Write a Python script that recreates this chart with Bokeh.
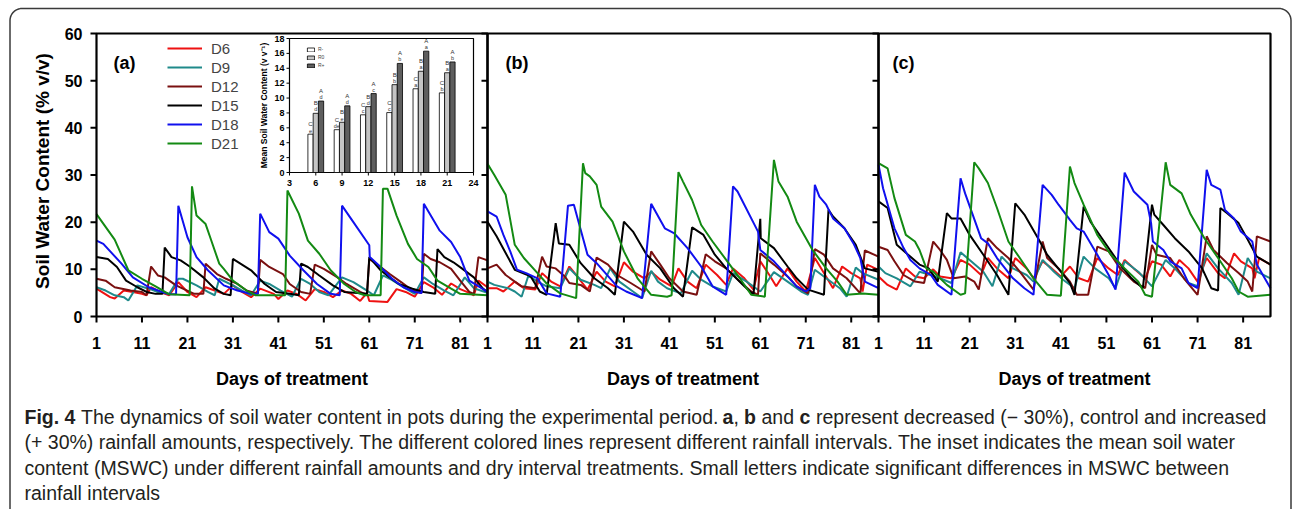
import numpy as np
from bokeh.plotting import figure
from bokeh.models import Range1d, Legend, LegendItem
from bokeh.core.properties import value
from bokeh.embed import file_html
from bokeh.resources import INLINE

# ---------------------------------------------------------------- data
SERIES = ["D6", "D9", "D12", "D15", "D18", "D21"]
COLORS = ["#ee1111", "#1f8a8a", "#7a1010", "#000000", "#1010ee", "#138a13"]
PANEL_TAGS = ["(a)", "(b)", "(c)"]

X_TICKS = [1, 11, 21, 31, 41, 51, 61, 71, 81]
Y_TICKS = [0, 10, 20, 30, 40, 50, 60]
DAY_MIN, DAY_MAX = 1, 87
SWC_MIN, SWC_MAX = 0, 60

# (day, soil water content %) for panel (a): decreased rainfall
A_D6 = [(1,5.9),(4,4.1),(5,3.8),(7,5.5),(9,5.2),(11,4.8),(12,4.5),(13,6.2),(15,5.2),(17,4.5),(19,7.3),(21,5.2),(23,4.1),(25,6.2),(27,5.5),(29,4.8),(31,6.6),(33,5.2),(35,4.1),(37,5.9),(40,4.8),(41,3.7),(43,5.5),(45,4.8),(47,3.4),(49,5.8),(51,5.2),(53,4.1),(55,5.5),(57,4.8),(59,3.3),(60.5,5.0),(61,3.3),(65,3.1),(67,5.8),(69,5.2),(71,4.2),(73,7.3),(75,6.2),(77,4.6),(79,7.0),(81,5.8),(83,5.0),(84,4.5),(85,7.6),(87,6.2)]
A_D9 = [(1,6.2),(3,5.5),(5,4.5),(7,4.1),(8,3.4),(10,6.6),(12.5,5.9),(14.5,5.2),(17,4.8),(19,8.0),(20,8.0),(23,6.6),(25.5,5.2),(27,4.5),(28,8.0),(31,6.6),(33.5,5.2),(35,4.5),(37,7.6),(39,6.9),(41.5,5.5),(44,4.2),(46,8.0),(48,6.9),(50,5.2),(52,4.5),(55,8.3),(57.5,7.3),(60.5,5.5),(62,4.5),(64,8.7),(65.5,8.0),(68.5,6.2),(71,4.8),(73,8.3),(75,6.9),(77.5,5.5),(79.5,4.5),(82,8.3),(84,6.0),(87,5.0)]
A_D12 = [(1,8.0),(3,7.6),(5,6.2),(8.5,5.5),(11,5.2),(12,4.5),(13,10.6),(14.5,8.7),(16,8.3),(18.5,6.6),(20,5.9),(22.5,4.8),(24.5,4.8),(25,11.2),(27.5,9.0),(29.5,8.0),(32,6.9),(34,5.5),(36.5,4.8),(37,12.0),(39,10.5),(42,9.0),(43.5,6.9),(46,5.2),(48,4.8),(49,11.0),(51,10.1),(54,8.3),(56,6.9),(59,5.2),(60.5,4.6),(61,12.2),(63.5,10.5),(65.5,9.0),(68,7.3),(70.5,5.5),(72.5,5.0),(73,13.3),(74.5,12.2),(76.5,11.5),(79,10.1),(81,7.6),(83,5.2),(84,4.8),(85,12.6),(87,11.9)]
A_D15 = [(1,12.6),(3.5,12.2),(5.5,10.5),(7.5,7.6),(10,6.2),(12,5.2),(14,4.8),(15.5,4.8),(16,14.6),(17.5,12.6),(19.5,11.9),(21.5,10.6),(24.5,8.3),(27,5.9),(29,4.8),(30.5,4.5),(31,12.2),(35,9.8),(38,6.9),(40.5,5.2),(43.5,4.8),(45.5,4.5),(46,11.2),(47.5,10.5),(50,8.7),(53,6.6),(55.5,5.2),(60.5,4.8),(61,12.6),(63.5,9.8),(65.5,8.3),(67.5,6.9),(70.5,5.9),(73,5.2),(75.5,4.8),(76,14.3),(77.5,12.6),(79.5,11.5),(81.5,10.1),(84,8.3),(86,5.9),(87,5.2)]
A_D18 = [(1,16.1),(2.5,15.4),(6.5,11.2),(9,8.3),(12.5,6.2),(17,4.7),(18.5,4.7),(19,23.5),(21,16.8),(23,12.6),(25.5,9.8),(29,6.6),(32,5.5),(35,4.8),(36.5,4.8),(37,21.8),(39,17.9),(41,16.5),(43.5,12.9),(46.5,9.8),(49.5,6.9),(52.5,4.8),(54.5,4.5),(55,23.5),(57.5,20.0),(61,15.1),(61.1,12.6),(63.5,10.5),(66,8.0),(68.5,6.2),(71,5.2),(72.5,5.0),(73,23.9),(76.5,18.2),(79,15.8),(81,12.6),(83,7.6),(87,5.2)]
A_D21 = [(1,21.7),(3,19.0),(5,16.3),(8,9.8),(11,8.0),(14,6.4),(17,4.7),(21.5,4.5),(22,27.6),(23,21.4),(25,19.6),(26,16.8),(28,11.2),(29,10.1),(31,7.6),(34,5.5),(36,4.5),(42.5,4.5),(43,26.7),(45.5,21.8),(47.5,16.1),(50,13.3),(52.5,9.8),(55.5,6.9),(58,5.2),(60,4.5),(63.5,4.5),(64,27.1),(65,27.1),(67,21.4),(69.5,15.4),(71.5,12.2),(74,10.5),(76,7.6),(79,5.9),(81,4.8),(87,4.5)]

# panel (b): control
B_D6 = [(1,6.0),(3,6.0),(4.5,5.3),(7,7.4),(9,6.0),(11.5,5.7),(13,9.2),(15,7.4),(17,6.4),(19,10.6),(20.5,8.8),(23,5.7),(25,9.5),(27,7.4),(29,6.4),(31,11.5),(33,9.5),(35.5,8.1),(37,9.5),(39,7.8),(41.5,6.4),(43,10.2),(45,7.4),(47,6.0),(49,11.0),(51.5,8.8),(53.5,6.7),(55,10.2),(57.5,8.1),(59.5,5.7),(61,11.7),(63,8.8),(64.5,6.4),(67,10.2),(69,7.4),(71,5.3),(73,12.4),(75,9.2),(77,6.0),(79,10.6),(81,9.2),(83,8.1),(83.5,5.3),(84.5,11.0),(87,9.9)]
B_D9 = [(1,7.4),(2.5,6.7),(5.5,6.0),(7,5.3),(8.5,4.2),(10,8.7),(12,7.4),(14,6.4),(17,6.0),(19,10.2),(21.5,7.8),(24.5,6.7),(26,6.0),(28,10.2),(30,7.4),(33,5.3),(35,3.9),(37,9.7),(38.5,7.4),(40.5,6.0),(43.5,4.9),(46,9.7),(48,7.8),(50.5,6.4),(53.5,5.3),(55,9.2),(58,7.4),(61,5.3),(64,9.4),(67,7.4),(70,5.3),(71.5,4.6),(73,9.9),(75.5,8.1),(78.5,6.0),(80,4.2),(82,10.4),(83.5,9.2),(87,7.8)]
B_D12 = [(1,10.2),(3,11.0),(5,8.8),(7,7.4),(8.5,6.4),(11.5,6.0),(13,12.7),(14,10.6),(16,10.2),(18,8.5),(19,7.1),(21.5,6.7),(23.5,5.3),(25,12.5),(27.5,11.0),(29.5,8.8),(32.5,7.1),(35.5,5.3),(37,13.8),(39,11.0),(41,8.1),(44,5.3),(47,4.6),(49,13.2),(51,11.7),(53.5,10.2),(56.5,7.4),(59,5.3),(60.5,4.6),(61,13.4),(64,11.0),(67,8.5),(69,6.4),(71.5,4.9),(73,14.3),(75,13.1),(77,10.2),(80,8.1),(83,4.9),(84,14.0),(87,12.7)]
B_D15 = [(1,20.1),(3,17.0),(7,9.9),(10.5,8.5),(12.5,5.3),(14,4.6),(16,19.8),(16.7,15.5),(19,15.2),(21.5,11.3),(24.5,8.1),(27.5,6.0),(29,4.6),(31,20.1),(33,18.0),(36,13.1),(39,10.2),(42,6.0),(44,4.2),(46,18.9),(48.5,17.3),(51,13.1),(53.5,10.2),(57.5,6.4),(59.5,4.6),(61,20.7),(61.1,16.6),(64,14.5),(67,10.6),(69,8.1),(71.5,5.7),(75,4.6),(76,22.6),(77,21.2),(79.5,18.7),(82,15.2),(84,10.2),(87,9.5)]
B_D18 = [(1,22.3),(3,21.2),(4.5,17.3),(6,13.8),(7.5,9.9),(9.5,9.2),(12,8.1),(14,4.9),(17,4.2),(18.7,23.5),(20,23.7),(23,13.1),(25,11.3),(29.5,6.4),(31.5,5.3),(35,3.9),(37,23.9),(40,18.7),(42,17.7),(45,14.5),(48,10.6),(50.5,6.4),(53.5,4.6),(55,27.6),(56,26.5),(60.5,18.0),(61,14.1),(64,11.7),(67,8.5),(69,6.4),(71,5.3),(72,6.0),(73,27.9),(74,25.4),(75.5,23.7),(77,20.8),(79.5,18.7),(81.5,15.5),(83,12.4),(84,7.4),(87,6.0)]
B_D21 = [(1,32.4),(2.5,30.0),(5,25.8),(7,15.2),(9,12.4),(12,9.2),(14,7.0),(17,4.9),(20.5,3.9),(22,32.5),(22.5,30.4),(23.5,29.7),(25,27.9),(26,23.3),(28.5,20.1),(31,13.8),(34,8.1),(37,4.6),(40.5,4.2),(41.5,4.5),(43,30.6),(44,28.6),(46,24.7),(48,19.4),(50.5,15.9),(53.5,12.0),(56.5,8.1),(59,4.6),(62,4.2),(64,33.2),(65,28.6),(67,25.4),(69,20.1),(72.5,14.1),(75.5,10.2),(78,7.4),(80,4.6),(83.5,4.9),(87,4.6)]

# panel (c): increased rainfall
C_D6 = [(1,8.5),(3,6.7),(5,5.7),(7,10.2),(9,8.5),(11,8.1),(13,10.0),(14.5,8.5),(17,8.1),(19,12.0),(21,11.0),(23.5,8.8),(25,12.4),(27,10.2),(29.5,8.1),(31,12.4),(33.5,10.2),(35,8.1),(37,11.7),(39,10.2),(41,8.5),(43,10.6),(45,8.1),(47,7.4),(49,12.4),(51.5,10.2),(53.5,8.8),(55,12.0),(57,10.2),(59.5,8.1),(61,11.7),(63,11.0),(65,8.5),(67,12.0),(69,10.2),(71,7.4),(73,12.4),(75.5,9.2),(77,8.1),(79,13.4),(80.5,11.7),(83,10.2),(83.5,8.1),(84.5,12.4),(87,11.0)]
C_D9 = [(1,10.6),(2.5,9.2),(5,8.1),(8,6.4),(10,9.5),(12.5,8.8),(14.5,8.1),(17,7.1),(19,13.6),(21,12.0),(24,9.5),(26,6.4),(28,12.7),(30.5,10.2),(33.5,8.8),(35,7.4),(37,12.0),(39.5,9.5),(41.5,7.8),(44,6.0),(46,12.7),(48.5,10.2),(51.5,8.1),(53,6.0),(55,11.7),(58,9.5),(61,6.4),(64,12.0),(66,10.2),(69,7.1),(71,6.4),(73,13.4),(75.5,10.2),(78.5,7.1),(80,4.6),(82,12.4),(84,9.5),(87,8.1)]
C_D12 = [(1,14.8),(3,14.1),(4.5,11.7),(6.5,8.8),(9,7.4),(11,7.1),(13,15.9),(14.5,14.1),(16,12.0),(17.5,8.1),(20,8.5),(22,7.4),(23,5.7),(25,16.6),(27,14.5),(29.5,12.4),(32,9.5),(35,5.7),(37,15.9),(38,12.4),(40.5,10.2),(43,7.4),(44.5,4.6),(47,4.6),(49,14.8),(51.5,13.8),(54,10.2),(57,7.4),(59.5,6.0),(61,15.2),(62,13.1),(65,12.4),(68,8.1),(71,4.6),(73,17.0),(74.5,14.1),(77.5,11.3),(80,9.2),(82,7.4),(83,5.3),(84,17.0),(87,15.9)]
C_D15 = [(1,24.4),(3,23.0),(5,15.2),(7.5,13.1),(10,11.0),(12,10.2),(14,7.4),(16,21.9),(17,20.8),(19,20.8),(21,17.3),(24,13.1),(27,8.8),(29.5,4.6),(31,24.0),(33,21.6),(36,16.6),(38,13.1),(41,9.5),(43,7.1),(44,4.6),(46,23.3),(47.5,20.1),(50.5,15.9),(53.5,11.7),(56.5,8.1),(59,6.0),(61,23.7),(61.5,21.6),(63.5,19.4),(66,16.6),(69,13.8),(72,10.2),(74,6.0),(75.5,5.5),(76,23.0),(77.5,21.9),(80,19.8),(82,16.3),(84,12.7),(87,11.0)]
C_D18 = [(1,32.2),(2,27.2),(4.5,18.7),(6.5,14.5),(8,12.0),(10,10.2),(12.5,8.8),(14,6.7),(17,4.6),(19,29.3),(20,26.1),(23.5,16.6),(25,15.5),(27,12.4),(30.5,8.1),(33,6.0),(35,4.6),(37,27.9),(39,25.8),(40.5,23.7),(43,20.5),(44.5,18.7),(46,18.0),(49,13.1),(51.5,8.8),(53,5.7),(55,30.5),(57,26.5),(60,23.7),(60.8,19.8),(61.2,15.9),(63.5,14.1),(65,11.7),(67.5,10.2),(69,7.1),(71,6.0),(73,31.1),(74,27.9),(76,26.9),(77,22.6),(79,20.8),(80.5,18.0),(83,15.9),(84,11.0),(87,6.0)]
C_D21 = [(1,32.5),(3,31.4),(4.5,25.1),(7,17.3),(9,15.9),(10,14.1),(11.5,10.2),(13,9.5),(16,6.7),(19,4.6),(20,4.9),(22,32.7),(23,31.4),(25,28.3),(27,23.0),(29.5,15.9),(32,12.4),(35,8.1),(38,4.6),(41,4.4),(43,31.8),(44,28.3),(46,23.7),(49,17.3),(52,13.1),(55,10.2),(58,7.4),(59.5,4.6),(61,4.2),(64,32.7),(65,27.9),(67.5,26.1),(69.5,21.6),(72.5,16.6),(75.5,12.4),(78.5,8.1),(80,5.3),(82,4.2),(87,4.6)]

PANELS = [
    [A_D6, A_D9, A_D12, A_D15, A_D18, A_D21],
    [B_D6, B_D9, B_D12, B_D15, B_D18, B_D21],
    [C_D6, C_D9, C_D12, C_D15, C_D18, C_D21],
]

# inset: mean soil water content per rainfall interval
INSET_INTERVAL = [6, 9, 12, 15, 18, 21]
MSWC_R_MINUS = [5.15, 5.75, 7.75, 8.05, 11.25, 10.7]
MSWC_R_ZERO = [7.95, 6.75, 8.85, 11.8, 13.6, 13.4]
MSWC_R_PLUS = [9.6, 8.95, 10.6, 14.65, 16.3, 14.85]
CAP_R_MINUS = ["C", "C", "C", "C", "C", "C"]
CAP_R_ZERO = ["B", "B", "B", "B", "B", "B"]
CAP_R_PLUS = ["A", "A", "A", "A", "A", "A"]
LOW_R_MINUS = ["e", "de", "c", "c", "a", "b"]
LOW_R_ZERO = ["d", "e", "d", "b", "a", "a"]
LOW_R_PLUS = ["d", "d", "c", "b", "a", "b"]
INSET_X_TICKS = [3, 6, 9, 12, 15, 18, 21, 24]
INSET_Y_TICKS = [0, 2, 4, 6, 8, 10, 12, 14, 16, 18]
INSET_X_MIN, INSET_X_MAX = 3, 24
INSET_Y_MIN, INSET_Y_MAX = 0, 18
RAIN_LABELS = ["R-", "R0", "R+"]

CAPTION = [
    [(24, "Fig. 4", "bold"),
     (80.6, "The dynamics of soil water content in pots during the experimental period.", "normal"),
     (722, "a", "bold"), (733, ",", "normal"), (743.5, "b", "bold"), (761, "and", "normal"),
     (799, "c", "bold"), (815.5, "represent decreased (\u2212 30%), control and increased", "normal")],
    [(24, "(+ 30%) rainfall amounts, respectively. The different colored lines represent different rainfall intervals. The inset indicates the mean soil water", "normal")],
    [(24, "content (MSWC) under different rainfall amounts and dry interval treatments. Small letters indicate significant differences in MSWC between", "normal")],
    [(24, "rainfall intervals", "normal")],
]

# ---------------------------------------------------------------- layout (pixels)
W, H = 1295, 509
PANEL_LEFT = [96, 487, 878]
PANEL_RIGHT = [487, 878, 1270]
PANEL_TOP, PANEL_BOTTOM = 33, 316
INSET_L, INSET_R, INSET_T, INSET_B = 289, 473, 38, 172
CAPTION_Y = [416, 441, 467, 492]
FONT = value("Liberation Sans")


def mapped_range(v0, p0, v1, p1, lo_px, hi_px):
    scale = (p1 - p0) / (v1 - v0)
    return Range1d(start=v0 + (lo_px - p0) / scale, end=v0 + (hi_px - p0) / scale)


p = figure(width=W, height=H, x_range=Range1d(0, W), y_range=Range1d(H, 0),
           x_axis_type=None, y_axis_type=None, output_backend="svg",
           toolbar_location=None, min_border=0, outline_line_color=None,
           background_fill_color="white", border_fill_color="white")

# outer rounded frame
rad, bl, br, bt, bb = 12, 9.5, 1290.5, 8, 540
t1 = np.linspace(np.pi, 1.5 * np.pi, 12)
t2 = np.linspace(1.5 * np.pi, 2 * np.pi, 12)
box_x = [bl] + list(bl + rad + rad * np.cos(t1)) + list(br - rad + rad * np.cos(t2)) + [br]
box_y = [bb] + list(bt + rad + rad * np.sin(t1)) + list(bt + rad + rad * np.sin(t2)) + [bb]
p.line(box_x, box_y, line_color="#3a3a3a", line_width=1.5)

# shared y range for the three panels
p.extra_y_ranges["swc"] = mapped_range(SWC_MIN, PANEL_BOTTOM, SWC_MAX, PANEL_TOP, H, 0)
swc_per_px = (SWC_MAX - SWC_MIN) / (PANEL_BOTTOM - PANEL_TOP)
TICK = 6

legend_renderers = []
for i in range(3):
    xr = f"day{i}"
    p.extra_x_ranges[xr] = mapped_range(DAY_MIN, PANEL_LEFT[i], DAY_MAX, PANEL_RIGHT[i], 0, W)
    day_per_px = (DAY_MAX - DAY_MIN) / (PANEL_RIGHT[i] - PANEL_LEFT[i])
    kw = dict(x_range_name=xr, y_range_name="swc")

    for k, series in enumerate(PANELS[i]):
        r = p.line([d for d, _ in series], [v for _, v in series], line_color=COLORS[k],
                   line_width=2, **kw)
        if i == 0:
            legend_renderers.append(r)

    # frame
    p.quad(left=[DAY_MIN], right=[DAY_MAX], bottom=[SWC_MIN], top=[SWC_MAX],
           fill_alpha=0, line_color="black", line_width=2.2, **kw)
    # bottom ticks + labels
    p.segment(x0=X_TICKS, y0=[SWC_MIN] * len(X_TICKS), x1=X_TICKS,
              y1=[SWC_MIN - TICK * swc_per_px] * len(X_TICKS), line_color="black", line_width=2, **kw)
    p.text(x=X_TICKS, y=[SWC_MIN] * len(X_TICKS), text=[str(t) for t in X_TICKS],
           y_offset=26, text_align="center", text_baseline="middle", text_font=FONT,
           text_font_style="bold", text_font_size="16px", text_color="black", **kw)
    p.text(x=[(DAY_MIN + DAY_MAX) / 2], y=[SWC_MIN], text=["Days of treatment"], y_offset=62,
           text_align="center", text_baseline="middle", text_font=FONT, text_font_style="bold",
           text_font_size="18px", text_color="black", **kw)
    # inward ticks on the right edge (a, b)
    if i < 2:
        p.segment(x0=[DAY_MAX] * len(Y_TICKS), y0=Y_TICKS, x1=[DAY_MAX - TICK * day_per_px] * len(Y_TICKS),
                  y1=Y_TICKS, line_color="black", line_width=2, **kw)
    if i == 0:
        p.segment(x0=[DAY_MIN] * len(Y_TICKS), y0=Y_TICKS, x1=[DAY_MIN - TICK * day_per_px] * len(Y_TICKS),
                  y1=Y_TICKS, line_color="black", line_width=2, **kw)
        p.text(x=[DAY_MIN] * len(Y_TICKS), y=Y_TICKS, text=[str(t) for t in Y_TICKS], x_offset=-14,
               text_align="right", text_baseline="middle", text_font=FONT, text_font_style="bold",
               text_font_size="16px", text_color="black", **kw)
        p.text(x=[DAY_MIN], y=[(SWC_MIN + SWC_MAX) / 2], text=["Soil Water Content (% v/v)"],
               x_offset=-54, y_offset=-4, angle=np.pi / 2, text_align="center", text_baseline="middle",
               text_font=FONT, text_font_style="bold", text_font_size="19px", text_color="black", **kw)
    # panel tag
    p.text(x=[DAY_MIN], y=[SWC_MAX], text=[PANEL_TAGS[i]], x_offset=[17, 18, 14][i], y_offset=29,
           text_align="left", text_baseline="middle", text_font=FONT, text_font_style="bold",
           text_font_size="18px", text_color="black", **kw)

legend = Legend(items=[LegendItem(label=s, renderers=[r]) for s, r in zip(SERIES, legend_renderers)],
                location=(167, 357), orientation="vertical", glyph_width=35, glyph_height=18,
                label_height=18, spacing=1, padding=0, margin=0, label_standoff=9,
                label_text_font="Liberation Sans", label_text_font_size="15px",
                border_line_alpha=0, background_fill_alpha=0)
p.add_layout(legend)

# ---------------------------------------------------------------- inset
p.extra_x_ranges["ix"] = mapped_range(INSET_X_MIN, INSET_L, INSET_X_MAX, INSET_R, 0, W)
p.extra_y_ranges["iy"] = mapped_range(INSET_Y_MIN, INSET_B, INSET_Y_MAX, INSET_T, H, 0)
ikw = dict(x_range_name="ix", y_range_name="iy")
ix_per_px = (INSET_X_MAX - INSET_X_MIN) / (INSET_R - INSET_L)
iy_per_px = (INSET_Y_MAX - INSET_Y_MIN) / (INSET_B - INSET_T)

p.quad(left=[INSET_X_MIN], right=[INSET_X_MAX], bottom=[INSET_Y_MIN], top=[INSET_Y_MAX],
       fill_color="white", line_color="black", line_width=1.2, **ikw)
BAR_W = 0.6
bar_sets = [(MSWC_R_MINUS, -BAR_W, "white", CAP_R_MINUS, LOW_R_MINUS),
            (MSWC_R_ZERO, 0.0, "#c4c4c4", CAP_R_ZERO, LOW_R_ZERO),
            (MSWC_R_PLUS, BAR_W, "#5e5e5e", CAP_R_PLUS, LOW_R_PLUS)]
bar_renderers = []
for vals, off, col, caps, lows in bar_sets:
    xs = [x + off for x in INSET_INTERVAL]
    r = p.vbar(x=xs, top=vals, bottom=0, width=BAR_W, fill_color=col, line_color="black",
               line_width=0.8, **ikw)
    bar_renderers.append(r)
    p.text(x=xs, y=vals, text=lows, y_offset=-1, text_align="center", text_baseline="bottom",
           text_font=FONT, text_font_size="5.5px", text_color="#333333", **ikw)
    p.text(x=xs, y=vals, text=caps, y_offset=-7, text_align="center", text_baseline="bottom",
           text_font=FONT, text_font_size="6px", text_color="#333333", **ikw)

p.segment(x0=INSET_X_TICKS, y0=[INSET_Y_MIN] * len(INSET_X_TICKS), x1=INSET_X_TICKS,
          y1=[INSET_Y_MIN - 3 * iy_per_px] * len(INSET_X_TICKS), line_color="black", line_width=1, **ikw)
p.segment(x0=[INSET_X_MIN] * len(INSET_Y_TICKS), y0=INSET_Y_TICKS,
          x1=[INSET_X_MIN - 3 * ix_per_px] * len(INSET_Y_TICKS), y1=INSET_Y_TICKS,
          line_color="black", line_width=1, **ikw)
p.text(x=INSET_X_TICKS, y=[INSET_Y_MIN] * len(INSET_X_TICKS), text=[str(t) for t in INSET_X_TICKS],
       y_offset=10, text_align="center", text_baseline="middle", text_font=FONT,
       text_font_style="bold", text_font_size="9px", text_color="black", **ikw)
p.text(x=[INSET_X_MIN] * len(INSET_Y_TICKS), y=INSET_Y_TICKS, text=[str(t) for t in INSET_Y_TICKS],
       x_offset=-5, text_align="right", text_baseline="middle", text_font=FONT,
       text_font_style="bold", text_font_size="9px", text_color="black", **ikw)
p.text(x=[INSET_X_MIN], y=[(INSET_Y_MIN + INSET_Y_MAX) / 2], text=["Mean Soil Water Content (v v\u207b\u00b9)"],
       x_offset=-26, angle=np.pi / 2, text_align="center", text_baseline="middle", text_font=FONT,
       text_font_style="bold", text_font_size="8.5px", text_color="black", **ikw)

inset_legend = Legend(items=[LegendItem(label=l, renderers=[r]) for l, r in zip(RAIN_LABELS, bar_renderers)],
                      location=(306, 441), orientation="vertical", glyph_width=9, glyph_height=5,
                      label_height=5, spacing=2, padding=0, margin=0, label_standoff=3,
                      label_text_font="Liberation Sans", label_text_font_size="5px",
                      border_line_alpha=0, background_fill_alpha=0)
p.add_layout(inset_legend)

# ---------------------------------------------------------------- caption
for line, yc in zip(CAPTION, CAPTION_Y):
    for xs, txt, style in line:
        p.text(x=[xs], y=[yc], text=[txt], text_align="left", text_baseline="middle",
               text_font=FONT, text_font_style=style, text_font_size="19.5px", text_color="#231f20")

open("out.html", "w").write(file_html(p, INLINE))
